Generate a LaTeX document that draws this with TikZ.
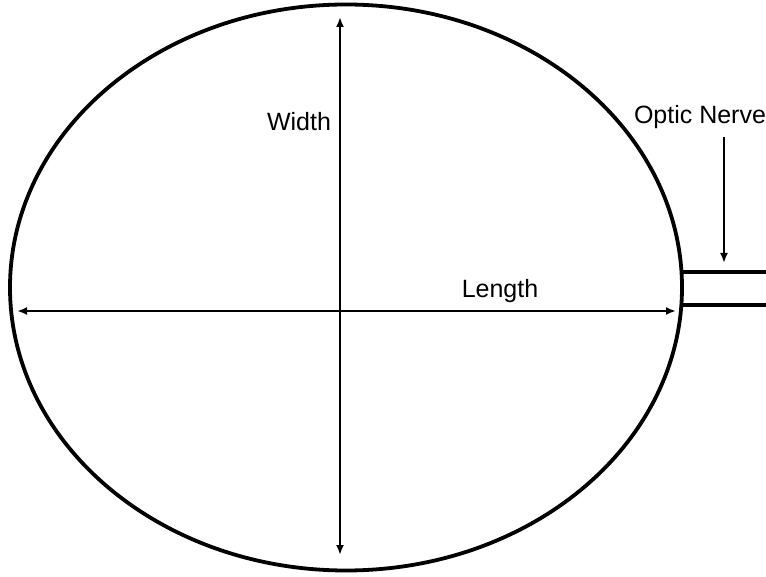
\documentclass[tikz,border=0pt]{standalone}
\usepackage{fontspec}
\setmainfont{Liberation Sans}
\usetikzlibrary{arrows.meta}
\tikzset{
  lbl/.style={font=\fontsize{25}{30}\selectfont, inner sep=0pt},
  dim/.style={line width=2.6pt, -{Latex[length=10pt,width=8pt]}},
}
\begin{document}
\begin{tikzpicture}[x=1pt,y=1pt]
\useasboundingbox (0,0) rectangle (766,576);
% eye outline
\draw[line width=3.8pt] (346,288.5) ellipse (336 and 283);
% optic nerve
\coordinate (n1) at (682,304);
\coordinate (n2) at (766,304);
\coordinate (n3) at (682,271);
\coordinate (n4) at (766,271);
\draw[line width=3.8pt] (n1) -- (n2);
\draw[line width=3.8pt] (n3) -- (n4);
% measurements
\coordinate (lenc) at (340,265);
\coordinate (lenl) at (17,265);
\coordinate (lenr) at (676,265);
\coordinate (wtop) at (340,559);
\coordinate (wbot) at (340,21);
\draw[dim] (lenc) -- (lenl);
\draw[dim] (lenc) -- (lenr);
\draw[dim] (lenc) -- (wtop);
\draw[dim] (lenc) -- (wbot);
\node[lbl] (width) at (299,454) {Width};
\node[lbl] (length) at (500,285) {Length};
\node[lbl] (nerve) at (700,459) {Optic Nerve};
\coordinate (nervetop) at (724,439);
\coordinate (nervetip) at (724,313);
\draw[dim] (nervetop) -- (nervetip);
\end{tikzpicture}
\end{document}
